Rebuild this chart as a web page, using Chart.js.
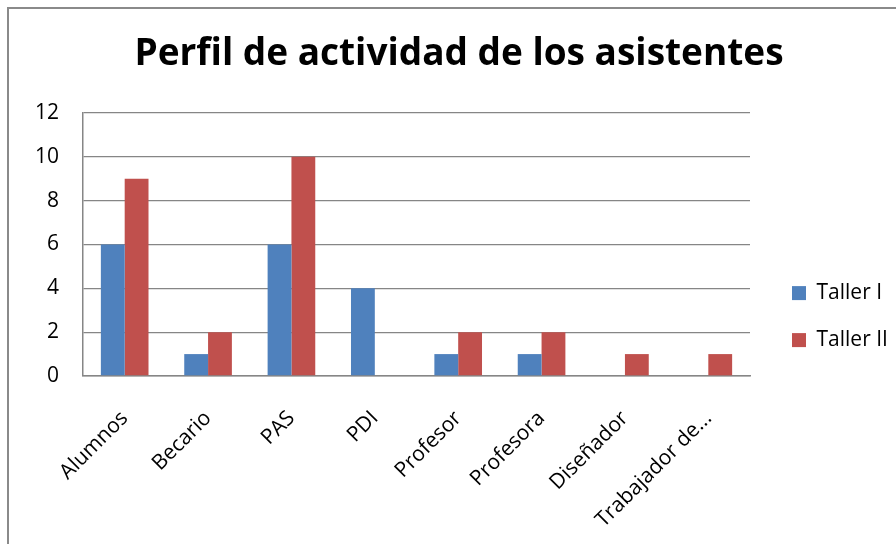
<!DOCTYPE html>
<html>
<head>
<meta charset="utf-8">
<script src="https://cdn.jsdelivr.net/npm/chart.js@4"></script>
<style>
  html, body { margin: 0; padding: 0; background: #fff; }
  #wrap { position: relative; width: 896px; height: 544px; overflow: hidden; }
  #frame { position: absolute; left: 7px; top: 7px; width: 1000px; height: 1000px;
           border-left: 2px solid #8a8a8a; border-top: 2px solid #8a8a8a; }
  canvas { position: absolute; left: 0; top: 0; }
</style>
</head>
<body>
<div id="wrap">
  <div id="frame"></div>
  <canvas id="chart" width="896" height="544"></canvas>
</div>
<script>
const categories = ['Alumnos', 'Becario', 'PAS', 'PDI', 'Profesor', 'Profesora', 'Diseñador', 'Trabajador de...'];
const tallerI = [6, 1, 6, 4, 1, 1, 0, 0];
const tallerII = [9, 2, 10, 0, 2, 2, 1, 1];
const seriesNames = ['Taller I', 'Taller II'];
const yTicks = [0, 2, 4, 6, 8, 10, 12];

const FONT = "'Open Sans', Lato, sans-serif";
const GRID = '#868686';

const ctx = document.getElementById('chart').getContext('2d');

new Chart(ctx, {
  type: 'bar',
  data: {
    labels: categories,
    datasets: [
      { label: seriesNames[0], data: tallerI, backgroundColor: '#4F81BD' },
      { label: seriesNames[1], data: tallerII, backgroundColor: '#C0504D' }
    ]
  },
  options: {
    responsive: false,
    animation: false,
    layout: { padding: { left: 22, right: 0, top: 0, bottom: 0 } },
    datasets: {
      bar: { categoryPercentage: 2 / 3.5, barPercentage: 1 }
    },
    plugins: {
      title: {
        display: true,
        text: 'Perfil de actividad de los asistentes',
        color: '#000',
        font: { family: FONT, size: 37, weight: 'bold' },
        padding: { top: 32, bottom: 36.6 }
      },
      legend: {
        position: 'right',
        maxWidth: 130,
        title: { display: true, text: ' ', font: { size: 1 }, padding: { top: 88, bottom: 0 } },
        labels: {
          color: '#000',
          font: { family: FONT, size: 21 },
          boxWidth: 14,
          boxHeight: 14,
          padding: 26
        }
      },
      tooltip: { enabled: false }
    },
    scales: {
      x: {
        grid: { display: false },
        border: { display: true, color: GRID, width: 1.5 },
        ticks: {
          color: '#000',
          font: { family: FONT, size: 21 },
          minRotation: 45,
          maxRotation: 45,
          autoSkip: false,
          padding: 22
        },
        afterFit: (s) => { s.height = 168; }
      },
      y: {
        min: 0,
        max: 12,
        afterBuildTicks: (s) => { s.ticks = yTicks.map(v => ({ value: v })); },
        grid: { color: GRID, lineWidth: 1.3, drawTicks: false },
        border: { display: true, color: GRID, width: 1.5 },
        ticks: {
          color: '#000',
          font: { family: FONT, size: 21 },
          padding: 24
        },
        afterFit: (s) => { s.width = 61; }
      },
      gap: {
        type: 'linear',
        position: 'right',
        display: true,
        grid: { display: false },
        border: { display: false },
        ticks: { display: false },
        afterFit: (s) => { s.width = 16; }
      }
    }
  }
});
</script>
</body>
</html>
